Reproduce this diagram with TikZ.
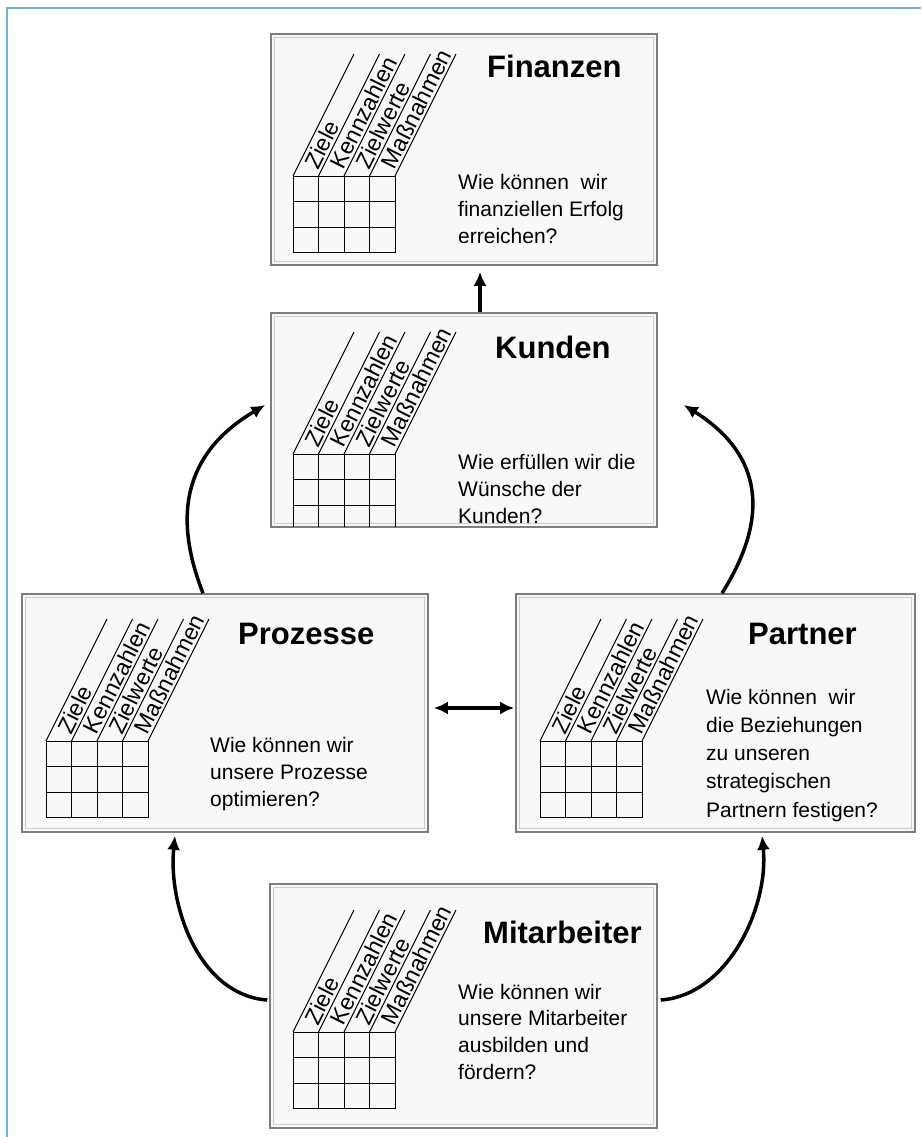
\documentclass[tikz,border=0pt]{standalone}
\usepackage{fontspec}
\setmainfont{Liberation Sans}
\usetikzlibrary{arrows.meta,calc}
\definecolor{frameblue}{RGB}{110,176,222}
\definecolor{boxfill}{RGB}{248,248,248}
\definecolor{boxedge}{RGB}{125,125,125}
\definecolor{boxinner}{RGB}{205,205,205}
\tikzset{
  card/.style={draw=boxedge, line width=1.6pt, fill=boxfill, inner sep=0pt},
  innerframe/.style={draw=boxinner, line width=0.8pt},
  thinline/.style={draw=black, line width=1pt},
  collabel/.style={anchor=base west, rotate=63.43, inner sep=0pt, font=\fontsize{23}{26}\selectfont},
  cardtitle/.style={anchor=base west, inner sep=0pt, font=\fontsize{31}{36}\bfseries\selectfont},
  question/.style={anchor=base west, inner sep=0pt, align=left, font=\fontsize{21}{26.6}\selectfont},
  conn/.style={line width=3.5pt, -{Latex[length=14pt,width=13pt]}},
  dconn/.style={line width=3.5pt, {Latex[length=14pt,width=13pt]}-{Latex[length=14pt,width=13pt]}},
}
\newcommand{\kpigrid}[2]{%
  \begin{scope}[shift={(#1,#2)}]
    \foreach \i in {0,...,4} {
      \draw[thinline] (\i*25.5,0) -- (\i*25.5,76.5);
      \draw[thinline] (\i*25.5,0) -- (\i*25.5+61,-122);
    }
    \foreach \j in {0,...,3} \draw[thinline] (0,\j*25.5) -- (102,\j*25.5);
    \node[collabel] at (1*25.5-0.2,-5.5) {Ziele};
    \node[collabel] at (2*25.5-0.2,-5.5) {Kennzahlen};
    \node[collabel] at (3*25.5-0.2,-5.5) {Zielwerte};
    \node[collabel] at (4*25.5-0.2,-5.5) {Maßnahmen};
  \end{scope}}
\begin{document}
\begin{tikzpicture}[x=1pt,y=-1pt]
\useasboundingbox (0,0) rectangle (921,1137);
\fill[white] (0,0) rectangle (921,1137);
\draw[frameblue, line width=1.6pt] (7,1137) -- (7,8) -- (921,8);

% boxes
\node[card, minimum width=386pt, minimum height=231pt] (fin) at (464,149.5) {};
\node[card, minimum width=386pt, minimum height=214pt] (kun) at (464,420) {};
\node[card, minimum width=406pt, minimum height=238pt] (proz) at (225,713) {};
\node[card, minimum width=399pt, minimum height=238pt] (part) at (715.5,713) {};
\node[card, minimum width=387pt, minimum height=244pt] (mit) at (463.5,1006) {};

\foreach \b in {fin,kun,proz,part,mit}
  \draw[innerframe] ([shift={(4.5pt,-4.5pt)}]\b.north west) rectangle ([shift={(-4.5pt,4.5pt)}]\b.south east);

% grids
\kpigrid{293}{176}
\begin{scope}
  \clip ([shift={(1pt,-1pt)}]kun.north west) rectangle ([shift={(-1pt,1pt)}]kun.south east);
  \kpigrid{293}{454}
\end{scope}
\kpigrid{46}{741}
\kpigrid{540}{741}
\kpigrid{293}{1032}

% titles
\node[cardtitle] (tfin) at (487,78) {Finanzen};
\node[cardtitle] (tkun) at (495,358) {Kunden};
\node[cardtitle] (tproz) at (238,644) {Prozesse};
\node[cardtitle] (tpart) at (748,644) {Partner};
\node[cardtitle] (tmit) at (483,943) {Mitarbeiter};

% questions (base anchor = baseline of last line)
\node[question] (qfin) at (458,243) {Wie können\ \ wir\\finanziellen Erfolg\\erreichen?};
\node[question] (qkun) at (458,523) {Wie erfüllen wir die\\Wünsche der\\Kunden?};
\node[question] (qproz) at (210,806) {Wie können wir\\unsere Prozesse\\optimieren?};
\node[question, font=\fontsize{21}{28.2}\selectfont] (qpart) at (706,817) {Wie können\ \ wir\\die Beziehungen\\zu unseren\\strategischen\\Partnern festigen?};
\node[question] (qmit) at (458,1079) {Wie können wir\\unsere Mitarbeiter\\ausbilden und\\fördern?};

% connectors
\draw[conn] ([xshift=16pt]kun.north) -- ([xshift=16pt,yshift=-6pt]fin.south);
\draw[dconn, shorten <=5pt, shorten >=1pt] ([yshift=5pt]proz.east) -- ([yshift=5pt]part.west);
\draw[conn] ([xshift=-22pt]proz.north) .. controls +(-33,-84) and +(-76,45) .. ([xshift=-5pt,yshift=15pt]kun.west);
\draw[conn] ([xshift=6.5pt]part.north) .. controls +(53,-84) and +(72,45) .. ([xshift=26pt,yshift=15pt]kun.east);
\draw[conn] ([xshift=-2pt,yshift=6pt]mit.west) .. controls +(-68,-5) and +(-7,70) .. ([xshift=-50pt,yshift=-3pt]proz.south);
\draw[conn] ([xshift=3pt,yshift=6pt]mit.east) .. controls +(68,-5) and +(7,70) .. ([xshift=46.5pt,yshift=-3pt]part.south);
\end{tikzpicture}
\end{document}
